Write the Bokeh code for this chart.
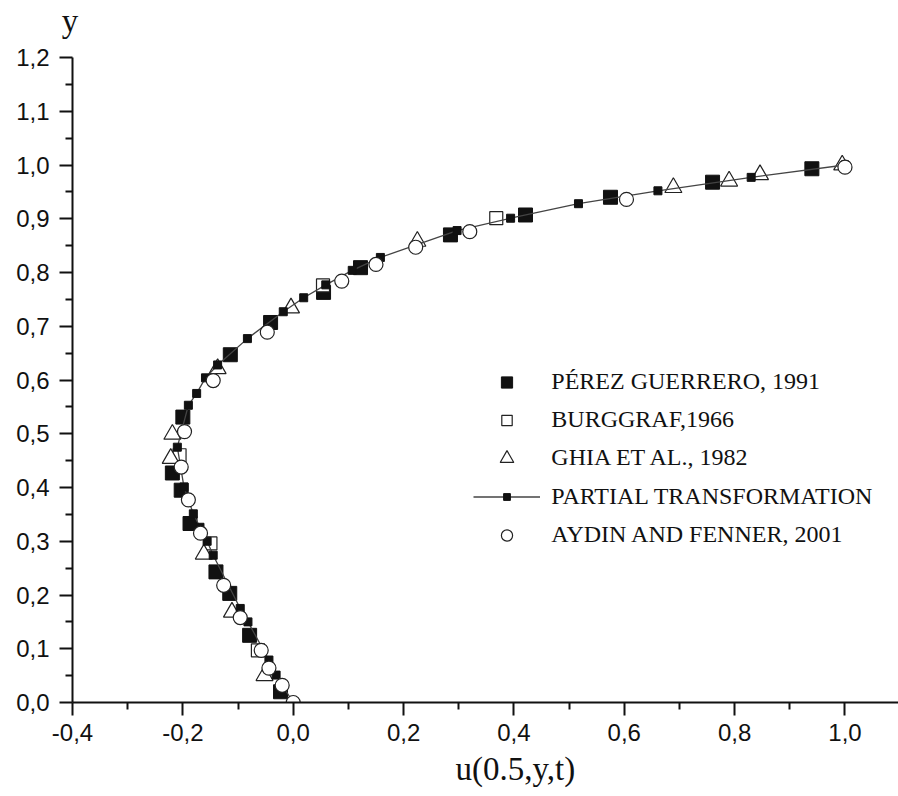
from bokeh.plotting import figure
from bokeh.models import FixedTicker, Legend, LegendItem, Title, Label, Range1d
from bokeh.embed import file_html
from bokeh.resources import INLINE

# u-velocity along the vertical centre line x = 0.5 of the driven cavity

# Pérez Guerrero, 1991
perez_u = [0.940, 0.760, 0.575, 0.421, 0.285, 0.122, 0.055, -0.041, -0.114,
           -0.200, -0.219, -0.203, -0.187, -0.140, -0.115, -0.079, -0.023]
perez_y = [0.993, 0.968, 0.940, 0.907, 0.870, 0.809, 0.763, 0.707, 0.647,
           0.531, 0.427, 0.395, 0.333, 0.243, 0.203, 0.125, 0.020]

# Burggraf, 1966
burg_u = [0.368, 0.054, -0.206, -0.150, -0.064]
burg_y = [0.901, 0.776, 0.460, 0.296, 0.097]

# Ghia et al., 1982
ghia_u = [0.995, 0.846, 0.790, 0.689, 0.225, -0.004, -0.137, -0.219, -0.222,
          -0.162, -0.111, -0.052]
ghia_y = [1.000, 0.982, 0.970, 0.958, 0.858, 0.734, 0.621, 0.499, 0.454,
          0.276, 0.168, 0.050]

# Partial transformation (present solution)
pt_u = [1.000, 0.830, 0.661, 0.517, 0.394, 0.297, 0.158, 0.107, 0.059, 0.019,
        -0.018, -0.083, -0.137, -0.159, -0.175, -0.190, -0.210, -0.198, -0.181,
        -0.169, -0.156, -0.145, -0.096, -0.082, -0.044, -0.031, 0.000]
pt_y = [1.000, 0.977, 0.952, 0.928, 0.901, 0.878, 0.828, 0.804, 0.777, 0.753,
        0.727, 0.677, 0.628, 0.604, 0.575, 0.553, 0.475, 0.401, 0.351,
        0.326, 0.300, 0.274, 0.175, 0.150, 0.079, 0.051, 0.000]

# Aydin and Fenner, 2001
aydin_u = [1.000, 0.604, 0.320, 0.222, 0.150, 0.088, -0.047, -0.145, -0.197,
           -0.203, -0.190, -0.168, -0.126, -0.096, -0.058, -0.044, -0.020, 0.000]
aydin_y = [0.996, 0.936, 0.876, 0.847, 0.815, 0.784, 0.689, 0.599, 0.504,
           0.438, 0.377, 0.315, 0.218, 0.158, 0.097, 0.064, 0.032, 0.000]

x_ticks = [-0.4, -0.2, 0.0, 0.2, 0.4, 0.6, 0.8, 1.0]
x_tick_labels = ["-0,4", "-0,2", "0,0", "0,2", "0,4", "0,6", "0,8", "1,0"]
x_minor = [-0.3, -0.1, 0.1, 0.3, 0.5, 0.7, 0.9]
y_ticks = [0.0, 0.1, 0.2, 0.3, 0.4, 0.5, 0.6, 0.7, 0.8, 0.9, 1.0, 1.1, 1.2]
y_tick_labels = ["0,0", "0,1", "0,2", "0,3", "0,4", "0,5", "0,6", "0,7",
                 "0,8", "0,9", "1,0", "1,1", "1,2"]
y_minor = [0.05, 0.15, 0.25, 0.35, 0.45, 0.55, 0.65, 0.75, 0.85, 0.95,
           1.05, 1.15]

series_names = ["PÉREZ GUERRERO, 1991", "BURGGRAF,1966", "GHIA ET AL., 1982",
                "PARTIAL TRANSFORMATION", "AYDIN AND FENNER, 2001"]
x_title = "u(0.5,y,t)"
y_title = "y"

SERIF = "Liberation Serif"
SANS = "Liberation Sans"
INK = "#111111"

p = figure(width=898, height=796, output_backend="svg", toolbar_location=None,
           x_range=Range1d(-0.4, 1.097), y_range=Range1d(0.0, 1.2),
           min_border_left=72, min_border_right=0, min_border_top=57,
           min_border_bottom=94)
p.outline_line_color = None
p.grid.visible = False
p.background_fill_color = "white"
p.border_fill_color = "white"

for ax, ticks, minor, labels in ((p.xaxis[0], x_ticks, x_minor, x_tick_labels),
                                 (p.yaxis[0], y_ticks, y_minor, y_tick_labels)):
    ax.ticker = FixedTicker(ticks=ticks, minor_ticks=minor)
    ax.major_label_overrides = dict(zip(ticks, labels))
    ax.axis_line_width = 2
    ax.axis_line_color = INK
    ax.major_tick_line_width = 2
    ax.major_tick_line_color = INK
    ax.minor_tick_line_width = 2
    ax.minor_tick_line_color = INK
    ax.major_tick_in = 0
    ax.major_tick_out = 13
    ax.minor_tick_in = 0
    ax.minor_tick_out = 7
    ax.major_label_text_font = SANS
    ax.major_label_text_font_size = "24px"
    ax.major_label_text_color = INK
p.xaxis.major_label_standoff = 8
p.yaxis.major_label_standoff = 10

# Pérez Guerrero: large filled squares
r_perez = p.scatter(perez_u, perez_y, marker="square", size=14,
                    fill_color=INK, line_color=INK, line_width=1)
# Burggraf: open squares
r_burg = p.scatter(burg_u, burg_y, marker="square", size=13,
                   fill_color="white", line_color="#222222", line_width=1.2)
# Ghia et al.: open triangles
r_ghia = p.scatter(ghia_u, ghia_y, marker="triangle", size=17,
                   fill_color="white", line_color="#222222", line_width=1.2)
# Partial transformation: thin line with small filled squares
r_pt_line = p.line(pt_u, pt_y, line_color="#444444", line_width=1.3)
r_pt_pts = p.scatter(pt_u, pt_y, marker="square", size=8,
                     fill_color=INK, line_color=INK, line_width=1)
# Aydin and Fenner: open circles
r_aydin = p.scatter(aydin_u, aydin_y, marker="circle", size=14,
                    fill_color="white", line_color="#222222", line_width=1.2)

# One single-row legend per series so each symbol keeps its own size
legend_rows = [
    (series_names[0], [r_perez], 28, 381.7),
    (series_names[1], [r_burg], 26, 419.7),
    (series_names[2], [r_ghia], 34, 457.5),
    (series_names[3], [r_pt_line, r_pt_pts], 17, 496.0),
    (series_names[4], [r_aydin], 28, 534.5),
]
frame_bottom = 702.0
frame_left = 72.0
row_h = 30
for label, rends, gh, cy in legend_rows:
    h = max(gh, row_h)
    leg = Legend(items=[LegendItem(label=label, renderers=rends)],
                 location=(473.3 - frame_left, frame_bottom - cy - h / 2),
                 glyph_width=67, glyph_height=gh, label_height=row_h,
                 label_standoff=11, padding=0, margin=0, spacing=0,
                 border_line_color=None, background_fill_alpha=0,
                 label_text_font=SERIF, label_text_font_size="24px",
                 label_text_color=INK)
    p.add_layout(leg)

# Axis titles: "y" above the top of the vertical axis, the abscissa title below
p.add_layout(Label(text=y_title, x=-2.5, y=37.0, x_units="screen",
                   y_units="screen", text_align="center",
                   text_baseline="alphabetic", text_font=SERIF,
                   text_font_size="33px", text_color=INK), "above")
p.add_layout(Title(text=x_title, align="left", offset=383, standoff=11,
                   text_font=SERIF, text_font_size="33px",
                   text_font_style="normal", text_color=INK), "below")

open("out.html", "w").write(file_html(p, INLINE))
